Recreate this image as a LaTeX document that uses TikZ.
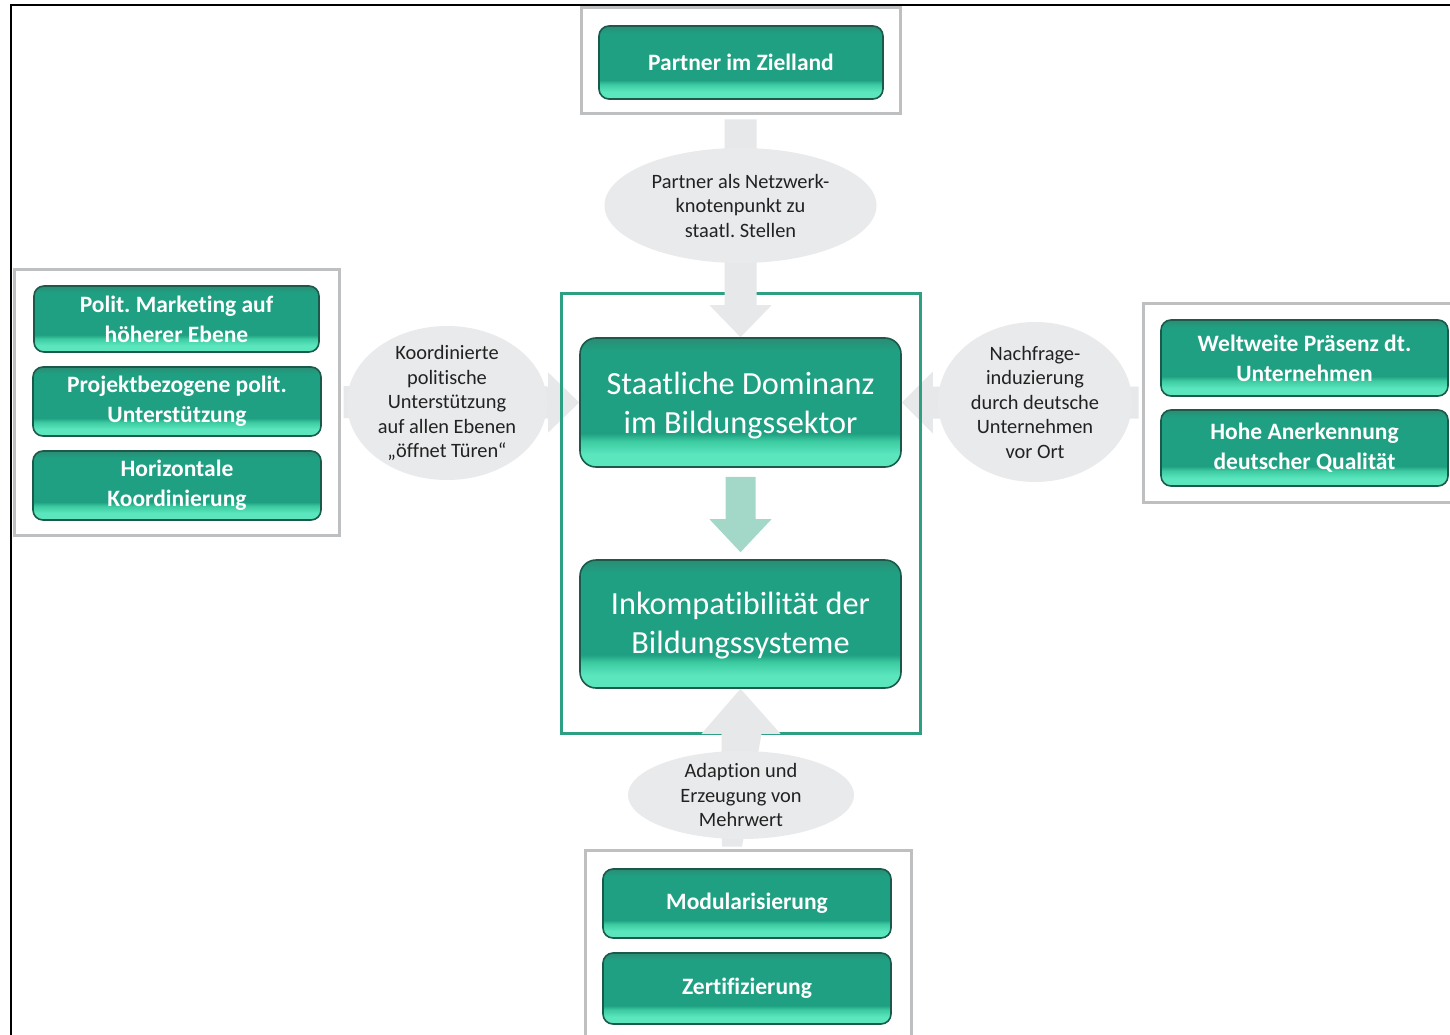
\documentclass[tikz,border=0pt]{standalone}
\usepackage{fontspec}
\setmainfont[RawFeature={-liga;-dlig}]{Carlito}
\frenchspacing
\usetikzlibrary{calc,shapes.geometric}

\definecolor{ttop}{HTML}{2B8C74}
\definecolor{tmain}{HTML}{1FA082}
\definecolor{tlow}{HTML}{3DCBA2}
\definecolor{tlight}{HTML}{5BE6BE}
\definecolor{tedge}{HTML}{1B5A4A}
\definecolor{frameteal}{HTML}{2DA083}
\definecolor{boxgray}{HTML}{BDBFC1}
\definecolor{arrgray}{HTML}{E7E8EA}
\definecolor{bubgray}{HTML}{E9EAEC}
\definecolor{arrteal}{HTML}{A3D8C8}
\definecolor{bubtext}{HTML}{222222}

% bevelled teal fill: dark top rim, teal body, bright lower band
\pgfdeclareverticalshading{btnshade}{100bp}{%
  color(0bp)=(tlight); color(25bp)=(tlight); color(30bp)=(tlight);
  color(35bp)=(tlow); color(38bp)=(tmain); color(70bp)=(tmain);
  color(75bp)=(ttop); color(100bp)=(ttop)}

\tikzset{
  btn/.style={rounded corners=10pt, draw=tedge, line width=1.6pt,
    shading=btnshade, text=white, align=center, inner sep=0pt,
    font=\bfseries\fontsize{23.5}{30}\selectfont},
  bigbtn/.style={btn, rounded corners=16pt},
  bigtxt/.style={text=white, align=center, inner sep=0pt,
    font=\fontsize{32.3}{39}\selectfont},
  grpbox/.style={draw=boxgray, line width=3pt, fill=none, inner sep=0pt},
  bubble/.style={ellipse, fill=bubgray, draw=none, inner sep=0pt},
  bubtxt/.style={text=bubtext, align=center, inner sep=0pt,
    font=\fontsize{20.4}{24.5}\selectfont},
}

\begin{document}
\begin{tikzpicture}[x=1pt,y=-1pt]
\useasboundingbox (0,0) rectangle (1450,1035);
\fill[white] (0,0) rectangle (1450,1035);

% outer frame (top and left edges)
\draw[black, line width=1.6pt] (11,1045) -- (11,5) -- (1460,5);

% group boxes
\node[grpbox, minimum width=319, minimum height=106] (gT) at (740.5,61) {};
\node[grpbox, minimum width=325, minimum height=266] (gL) at (176.5,402) {};
\node[grpbox, minimum width=330, minimum height=199] (gR) at (1308,402.5) {};
\node[grpbox, minimum width=326, minimum height=210] (gB) at (748,955) {};

% central boxes
\node[bigbtn, minimum width=321, minimum height=129] (sA) at (740.5,402.5) {};
\node[bigtxt] (sAt) at ($(sA)+(0,3)$) {Staatliche Dominanz\\im Bildungssektor};
\node[bigbtn, minimum width=321, minimum height=128] (sB) at (740.5,624) {};
\node[bigtxt] (sBt) at ($(sB)+(0,2)$) {Inkompatibilität der\\Bildungssysteme};

% side arrows into the central box
\fill[arrgray] ($(gL.east)+(3,-16)$) -- ($(sA.west)+(-31,-16)$) -- ($(sA.west)+(-31,-30)$)
  -- (sA.west) -- ($(sA.west)+(-31,30)$) -- ($(sA.west)+(-31,16)$) -- ($(gL.east)+(3,16)$) -- cycle;
\fill[arrgray] ($(gR.west)+(-3,-16)$) -- ($(sA.east)+(31,-16)$) -- ($(sA.east)+(31,-31)$)
  -- (sA.east) -- ($(sA.east)+(31,31)$) -- ($(sA.east)+(31,16)$) -- ($(gR.west)+(-3,16)$) -- cycle;

% frame around the central boxes
\draw[frameteal, line width=3pt] (561,293) rectangle (920,733);

% vertical arrows
\fill[arrgray] ($(gT.south)+(-16,4)$) -- ($(sA.north)+(-16,-32)$) -- ($(sA.north)+(-31,-32)$)
  -- (sA.north) -- ($(sA.north)+(31,-32)$) -- ($(sA.north)+(16,-32)$) -- ($(gT.south)+(16,4)$) -- cycle;
\fill[arrteal] ($(sA.south)+(-15,9)$) -- ($(sB.north)+(-15,-40)$) -- ($(sB.north)+(-31,-40)$)
  -- ($(sB.north)+(0,-7)$) -- ($(sB.north)+(31,-40)$) -- ($(sB.north)+(15,-40)$) -- ($(sA.south)+(15,9)$) -- cycle;
\fill[arrgray] ($(gB.north)+(-26,-2)$) -- ($(sB.south)+(-19,45)$) -- ($(sB.south)+(-39,45)$)
  -- (sB.south) -- ($(sB.south)+(40,45)$) -- ($(sB.south)+(21,45)$) -- ($(gB.north)+(-6,-2)$) -- cycle;

% label bubbles on the arrows
\node[bubble, minimum width=272, minimum height=115] (eT) at (740.5,205.5) {};
\node[bubtxt] at (eT) {Partner als Netzwerk-\\knotenpunkt zu\\staatl. Stellen};
\node[bubble, minimum width=200, minimum height=154] (eL) at (447,403) {};
\node[bubtxt] at (eL) {Koordinierte\\politische\\Unterstützung\\auf allen Ebenen\\„öffnet Türen“};
\node[bubble, minimum width=194, minimum height=160] (eR) at (1035,402) {};
\node[bubtxt] at (eR) {Nachfrage-\\induzierung\\durch deutsche\\Unternehmen\\vor Ort};
\node[bubble, minimum width=226, minimum height=88] (eB) at (741,795) {};
\node[bubtxt] at (eB) {Adaption und\\Erzeugung von\\Mehrwert};

% buttons inside the group boxes
\node[btn, minimum width=284, minimum height=73] (p1) at (741,62.5) {Partner im Zielland};

\node[btn, minimum width=285, minimum height=66] (l1) at (176.5,319) {Polit. Marketing auf\\höherer Ebene};
\node[btn, minimum width=288, minimum height=69] (l2) at (177,401.5) {Projektbezogene polit.\\Unterstützung};
\node[btn, minimum width=288, minimum height=69] (l3) at (177,485.5) {Horizontale\\Koordinierung};

\node[btn, minimum width=287, minimum height=76] (r1) at (1304.5,358) {Weltweite Präsenz dt.\\Unternehmen};
\node[btn, minimum width=287, minimum height=76] (r2) at (1304.5,448) {Hohe Anerkennung\\deutscher Qualität};

\node[btn, minimum width=288, minimum height=69] (b1) at (747,903.5) {Modularisierung};
\node[btn, minimum width=288, minimum height=71] (b2) at (747,988.5) {Zertifizierung};
\end{tikzpicture}
\end{document}
